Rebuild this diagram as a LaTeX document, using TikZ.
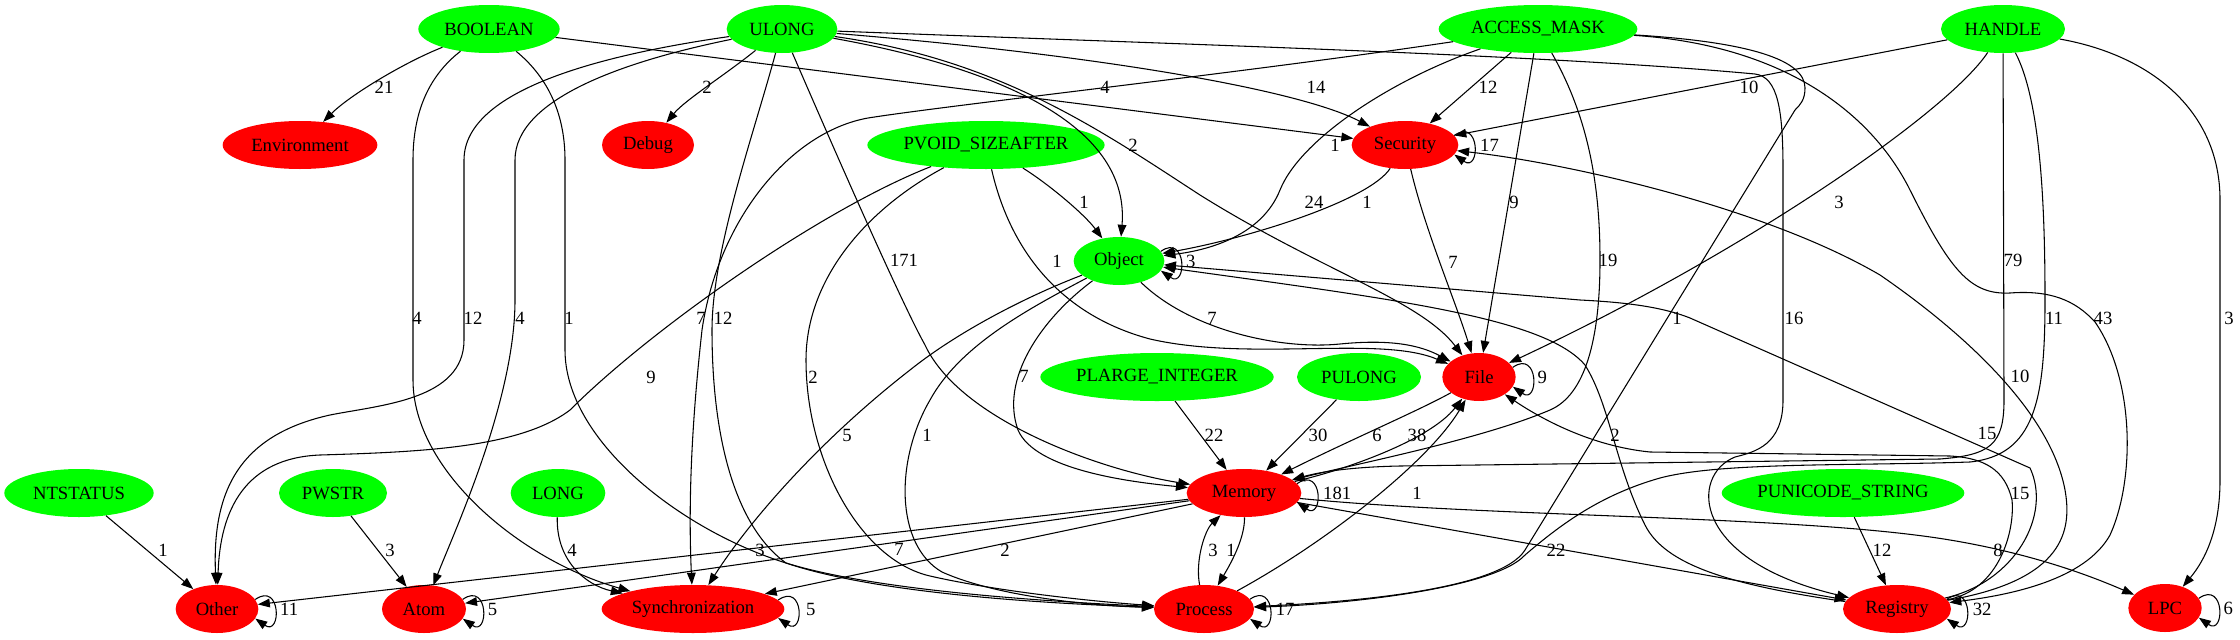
\documentclass[tikz,border=0pt]{standalone}
\usepackage{fontspec}
\setmainfont{Liberation Serif}
\usetikzlibrary{shapes.geometric,arrows.meta}

\definecolor{typegreen}{HTML}{00FF00}
\definecolor{apired}{HTML}{FF0000}
\newcommand{\gvfont}{\fontsize{14}{16}\selectfont}
% loop on the right side of a node
\newcommand{\selfloop}[2]{\draw[edge] (#1.#2) .. controls +(35:24pt) and +(-35:24pt) .. (#1.-#2);}

\begin{document}
\begin{tikzpicture}[x=0.75pt,y=-0.75pt,
  typenode/.style={ellipse, fill=typegreen, inner sep=0pt, minimum height=36pt, font=\gvfont},
  apinode/.style={ellipse, fill=apired, inner sep=0pt, minimum height=36pt, font=\gvfont},
  edge/.style={-{Triangle[length=9pt,width=6.5pt]}, line width=0.8pt},
  elabel/.style={inner sep=0pt, font=\gvfont},
  looplabel/.style={inner sep=0pt, font=\gvfont, anchor=west}]
\useasboundingbox (0,0) rectangle (2240,639);

% Row 1
\node[typenode, minimum width=106pt] (bool) at (489,29) {BOOLEAN};
\node[typenode, minimum width=83pt] (ulong) at (782,29) {ULONG};
\node[typenode, minimum width=149pt] (amask) at (1538,29) {ACCESS\_MASK};
\node[typenode, minimum width=93pt] (handle) at (2003,29) {HANDLE};

% Row 2
\node[apinode, minimum width=116pt] (env) at (300,145) {Environment};
\node[apinode, minimum width=69pt] (debug) at (648,145) {Debug};
\node[typenode, minimum width=178pt] (pvoid) at (986,145) {PVOID\_SIZEAFTER};
\node[apinode, minimum width=80pt] (sec) at (1405,145) {Security};

% Row 3
\node[typenode, minimum width=68pt] (obj) at (1119,261) {Object};

% Row 4
\node[typenode, minimum width=175pt] (plarge) at (1157,377) {PLARGE\_INTEGER};
\node[typenode, minimum width=93pt] (pulong) at (1359,377) {PULONG};
\node[apinode, minimum width=55pt] (file) at (1479,377) {File};

% Row 5
\node[typenode, minimum width=112pt] (ntstatus) at (79,493) {NTSTATUS};
\node[typenode, minimum width=81pt] (pwstr) at (333,493) {PWSTR};
\node[typenode, minimum width=71pt] (long) at (558,493) {LONG};
\node[apinode, minimum width=86pt] (mem) at (1244,493) {Memory};
\node[typenode, minimum width=182pt] (punicode) at (1843,493) {PUNICODE\_STRING};

% Row 6
\node[apinode, minimum width=62pt] (other) at (217,609) {Other};
\node[apinode, minimum width=63pt] (atom) at (424,609) {Atom};
\node[apinode, minimum width=137pt] (sync) at (693,609) {Synchronization};
\node[apinode, minimum width=75pt] (proc) at (1204,609) {Process};
\node[apinode, minimum width=81pt] (reg) at (1897,609) {Registry};
\node[apinode, minimum width=55pt] (lpc) at (2165,608) {LPC};

% BOOLEAN
\draw[edge] (bool) .. controls (405,62) and (350,95) .. (env);
\draw[edge] (bool) -- (sec);
\draw[edge] (bool) .. controls (430,75) and (413,110) .. (413,160) -- (413,380) .. controls (413,470) and (520,560) .. (sync);
\draw[edge] (bool) .. controls (545,75) and (565,110) .. (565,160) -- (565,350) .. controls (565,440) and (680,530) .. (786,563) .. controls (880,592) and (1060,602) .. (proc);

% ULONG
\draw[edge] (ulong) .. controls (725,75) and (685,100) .. (debug);
\draw[edge] (ulong) .. controls (600,55) and (464,90) .. (464,160) -- (464,340) .. controls (464,400) and (380,405) .. (330,415) .. controls (240,435) and (212,490) .. (other);
\draw[edge] (ulong) .. controls (620,62) and (515,100) .. (515,160) -- (515,300) .. controls (515,400) and (455,530) .. (atom);
\draw[edge] (ulong) .. controls (755,130) and (712,250) .. (712,330) .. controls (712,450) and (740,530) .. (786,563) .. controls (880,595) and (1060,604) .. (proc);
\draw[edge] (ulong) .. controls (830,140) and (900,300) .. (925,345) .. controls (960,420) and (1100,470) .. (mem);
\draw[edge] (ulong) .. controls (1010,70) and (1130,130) .. (obj);
\draw[edge] (ulong) .. controls (1100,55) and (1300,90) .. (sec);
\draw[edge] (ulong) .. controls (1000,60) and (1100,130) .. (1200,195) .. controls (1320,270) and (1420,300) .. (file);
\draw[edge] (ulong) .. controls (1200,45) and (1550,55) .. (1755,74) .. controls (1778,77) and (1783,110) .. (1783,170) -- (1783,400) .. controls (1783,445) and (1755,452) .. (1735,457) .. controls (1690,475) and (1690,560) .. (reg);

% ACCESS_MASK
\draw[edge] (amask) -- (sec);
\draw[edge] (amask) .. controls (1390,80) and (1300,140) .. (1280,190) .. controls (1262,235) and (1210,250) .. (obj);
\draw[edge] (amask) -- (file);
\draw[edge] (amask) .. controls (1590,120) and (1600,190) .. (1600,260) .. controls (1600,340) and (1585,395) .. (1550,410) .. controls (1480,440) and (1350,465) .. (mem);
\draw[edge] (amask) .. controls (1250,72) and (950,105) .. (868,118) .. controls (790,132) and (718,220) .. (702,330) .. controls (692,420) and (688,500) .. (sync);
\draw[edge] (amask) .. controls (1750,42) and (1805,60) .. (1805,88) .. controls (1805,100) and (1800,105) .. (1795,110) -- (1525,550) .. controls (1500,590) and (1350,602) .. (proc);
\draw[edge] (amask) .. controls (1780,45) and (1870,110) .. (1910,190) .. controls (1950,270) and (1970,295) .. (2010,293) .. controls (2050,290) and (2075,300) .. (2095,322) .. controls (2135,380) and (2135,480) .. (2110,535) .. controls (2085,580) and (2010,595) .. (reg);

% HANDLE
\draw[edge] (handle) -- (sec);
\draw[edge] (handle) .. controls (1950,110) and (1750,250) .. (file);
\draw[edge] (handle) -- (2004,400) .. controls (2004,445) and (1990,455) .. (1940,459) -- (1400,466) .. controls (1350,467) and (1320,472) .. (mem);
\draw[edge] (handle) .. controls (2040,100) and (2045,200) .. (2045,300) .. controls (2045,400) and (2035,455) .. (1970,462) .. controls (1850,466) and (1720,462) .. (1660,478) .. controls (1600,495) and (1560,525) .. (1525,555) .. controls (1495,588) and (1350,604) .. (proc);
\draw[edge] (handle) .. controls (2150,55) and (2220,110) .. (2220,200) -- (2220,480) .. controls (2220,530) and (2205,560) .. (lpc);

% PVOID_SIZEAFTER
\draw[edge] (pvoid) .. controls (1050,185) and (1085,215) .. (obj);
\draw[edge] (pvoid) .. controls (1010,250) and (1060,315) .. (1150,339) .. controls (1250,362) and (1380,335) .. (file);
\draw[edge] (pvoid) .. controls (820,210) and (650,330) .. (570,410) .. controls (520,448) and (420,452) .. (320,455) .. controls (245,458) and (220,510) .. (other);
\draw[edge] (pvoid) .. controls (865,210) and (806,280) .. (806,360) .. controls (806,460) and (860,560) .. (930,576) .. controls (1000,592) and (1100,602) .. (proc);

% Security and Object
\draw[edge] (sec) .. controls (1370,200) and (1250,238) .. (obj);
\draw[edge] (sec) .. controls (1425,230) and (1455,300) .. (file);
\draw[edge] (obj) .. controls (1190,330) and (1280,350) .. (1340,344) .. controls (1390,339) and (1420,345) .. (file);
\draw[edge] (obj) .. controls (1030,295) and (960,330) .. (910,370) .. controls (820,440) and (750,520) .. (sync);
\draw[edge] (obj) .. controls (1030,308) and (960,345) .. (930,400) .. controls (895,460) and (895,545) .. (942,572) .. controls (1000,598) and (1100,606) .. (proc);
\draw[edge] (obj) .. controls (1040,320) and (1000,380) .. (1018,430) .. controls (1035,470) and (1130,482) .. (mem);

% Memory, File, Process
\draw[edge] (plarge) -- (mem);
\draw[edge] (pulong) -- (mem);
\draw[edge] (file) .. controls (1420,410) and (1350,440) .. (mem);
\draw[edge] (mem) .. controls (1345,470) and (1430,440) .. (file);
\draw[edge] (proc) .. controls (1330,540) and (1430,460) .. (file);
\draw[edge] (mem) .. controls (1245,540) and (1228,568) .. (proc);
\draw[edge] (proc) .. controls (1195,560) and (1205,530) .. (mem);
\draw[edge] (mem) -- (other);
\draw[edge] (mem) -- (atom);
\draw[edge] (mem) -- (sync);
\draw[edge] (mem) -- (reg);
\draw[edge] (mem) .. controls (1500,518) and (1800,515) .. (1950,540) .. controls (2040,555) and (2100,580) .. (lpc);

% small types
\draw[edge] (ntstatus) -- (other);
\draw[edge] (pwstr) -- (atom);
\draw[edge] (long) .. controls (556,560) and (585,585) .. (sync);
\draw[edge] (punicode) -- (reg);

% Registry back
\draw[edge] (reg) .. controls (2015,582) and (2052,515) .. (2030,468) -- (1690,318) .. controls (1660,306) and (1620,302) .. (1580,300) -- (obj);
\draw[edge] (reg) .. controls (1730,585) and (1665,565) .. (1645,525) .. controls (1615,465) and (1610,405) .. (1585,365) .. controls (1545,318) and (1400,300) .. (obj);
\draw[edge] (reg) .. controls (2000,590) and (2015,530) .. (2012,500) .. controls (2005,470) and (1985,458) .. (1950,456) -- (1650,452) .. controls (1590,446) and (1540,418) .. (file);
\draw[edge] (reg) .. controls (2065,580) and (2072,530) .. (2065,490) .. controls (2050,410) and (1960,330) .. (1880,275) .. controls (1760,205) and (1560,162) .. (sec);

% Self loops
\selfloop{sec}{11}
\selfloop{obj}{13}
\selfloop{file}{16}
\selfloop{mem}{10}
\selfloop{proc}{12}
\selfloop{other}{14}
\selfloop{atom}{14}
\selfloop{sync}{6}
\selfloop{reg}{11}
\selfloop{lpc}{16}
\node[looplabel] (lsec) at ([xshift=16pt]sec.east) {17};
\node[looplabel] (lobj) at ([xshift=16pt]obj.east) {3};
\node[looplabel] (lfile) at ([xshift=16pt]file.east) {9};
\node[looplabel] (lmem) at ([xshift=16pt]mem.east) {181};
\node[looplabel] (lproc) at ([xshift=16pt]proc.east) {17};
\node[looplabel] (lother) at ([xshift=16pt]other.east) {11};
\node[looplabel] (latom) at ([xshift=16pt]atom.east) {5};
\node[looplabel] (lsync) at ([xshift=16pt]sync.east) {5};
\node[looplabel] (lreg) at ([xshift=16pt]reg.east) {32};
\node[looplabel] (llpc) at ([xshift=16pt]lpc.east) {6};

% Edge labels
\node[elabel] (lBoolEnv) at (384,87) {21};
\node[elabel] (lUlongDbg) at (707,87) {2};
\node[elabel] (lBoolSec) at (1105,87) {4};
\node[elabel] (lUlongSec) at (1316,87) {14};
\node[elabel] (lAmSec) at (1488,87) {12};
\node[elabel] (lHdlSec) at (1749,87) {10};
\node[elabel] (lUlongObj) at (1133,145) {2};
\node[elabel] (lAmObj) at (1335,145) {1};
\node[elabel] (lPvObj) at (1084,202) {1};
\node[elabel] (lUlongFile) at (1314,202) {24};
\node[elabel] (lSecObj) at (1367,202) {1};
\node[elabel] (lAmFile) at (1514,202) {9};
\node[elabel] (lHdlFile) at (1839,202) {3};
\node[elabel] (lUlongMem) at (904,260) {171};
\node[elabel] (lPvFile) at (1057,261) {1};
\node[elabel] (lSecFile) at (1453,262) {7};
\node[elabel] (lAmMem) at (1608,260) {19};
\node[elabel] (lHdlMem) at (2013,260) {79};
\node[elabel] (lBoolSync) at (417,318) {4};
\node[elabel] (lUlongOther) at (473,318) {12};
\node[elabel] (lUlongAtom) at (520,318) {4};
\node[elabel] (lBoolProc) at (569,318) {1};
\node[elabel] (lAmSync) at (701,318) {7};
\node[elabel] (lUlongProc) at (723,318) {12};
\node[elabel] (lObjFile) at (1212,318) {7};
\node[elabel] (lAmProc) at (1677,318) {1};
\node[elabel] (lUlongReg) at (1794,318) {16};
\node[elabel] (lHdlProc) at (2054,318) {11};
\node[elabel] (lAmReg) at (2103,318) {43};
\node[elabel] (lHdlLpc) at (2229,318) {3};
\node[elabel] (lPvOther) at (651,377) {9};
\node[elabel] (lPvProc) at (813,377) {2};
\node[elabel] (lObjMem) at (1024,376) {7};
\node[elabel] (lRegSec) at (2020,376) {10};
\node[elabel] (lObjSync) at (847,435) {5};
\node[elabel] (lObjProc) at (927,435) {1};
\node[elabel] (lPlargeMem) at (1214,435) {22};
\node[elabel] (lPulongMem) at (1318,435) {30};
\node[elabel] (lFileMem) at (1377,435) {6};
\node[elabel] (lMemFile) at (1417,435) {38};
\node[elabel] (lRegObjB) at (1615,435) {2};
\node[elabel] (lRegObjA) at (1987,433) {15};
\node[elabel] (lProcFile) at (1417,493) {1};
\node[elabel] (lRegFile) at (2020,493) {15};
\node[elabel] (lNtOther) at (163,550) {1};
\node[elabel] (lPwstrAtom) at (390,550) {3};
\node[elabel] (lLongSync) at (572,550) {4};
\node[elabel] (lMemOther) at (760,550) {3};
\node[elabel] (lMemAtom) at (899,549) {7};
\node[elabel] (lMemSync) at (1005,550) {2};
\node[elabel] (lProcMem) at (1213,550) {3};
\node[elabel] (lMemProc) at (1231,550) {1};
\node[elabel] (lMemReg) at (1556,550) {22};
\node[elabel] (lPuniReg) at (1882,550) {12};
\node[elabel] (lMemLpc) at (1998,550) {8};
\end{tikzpicture}
\end{document}
